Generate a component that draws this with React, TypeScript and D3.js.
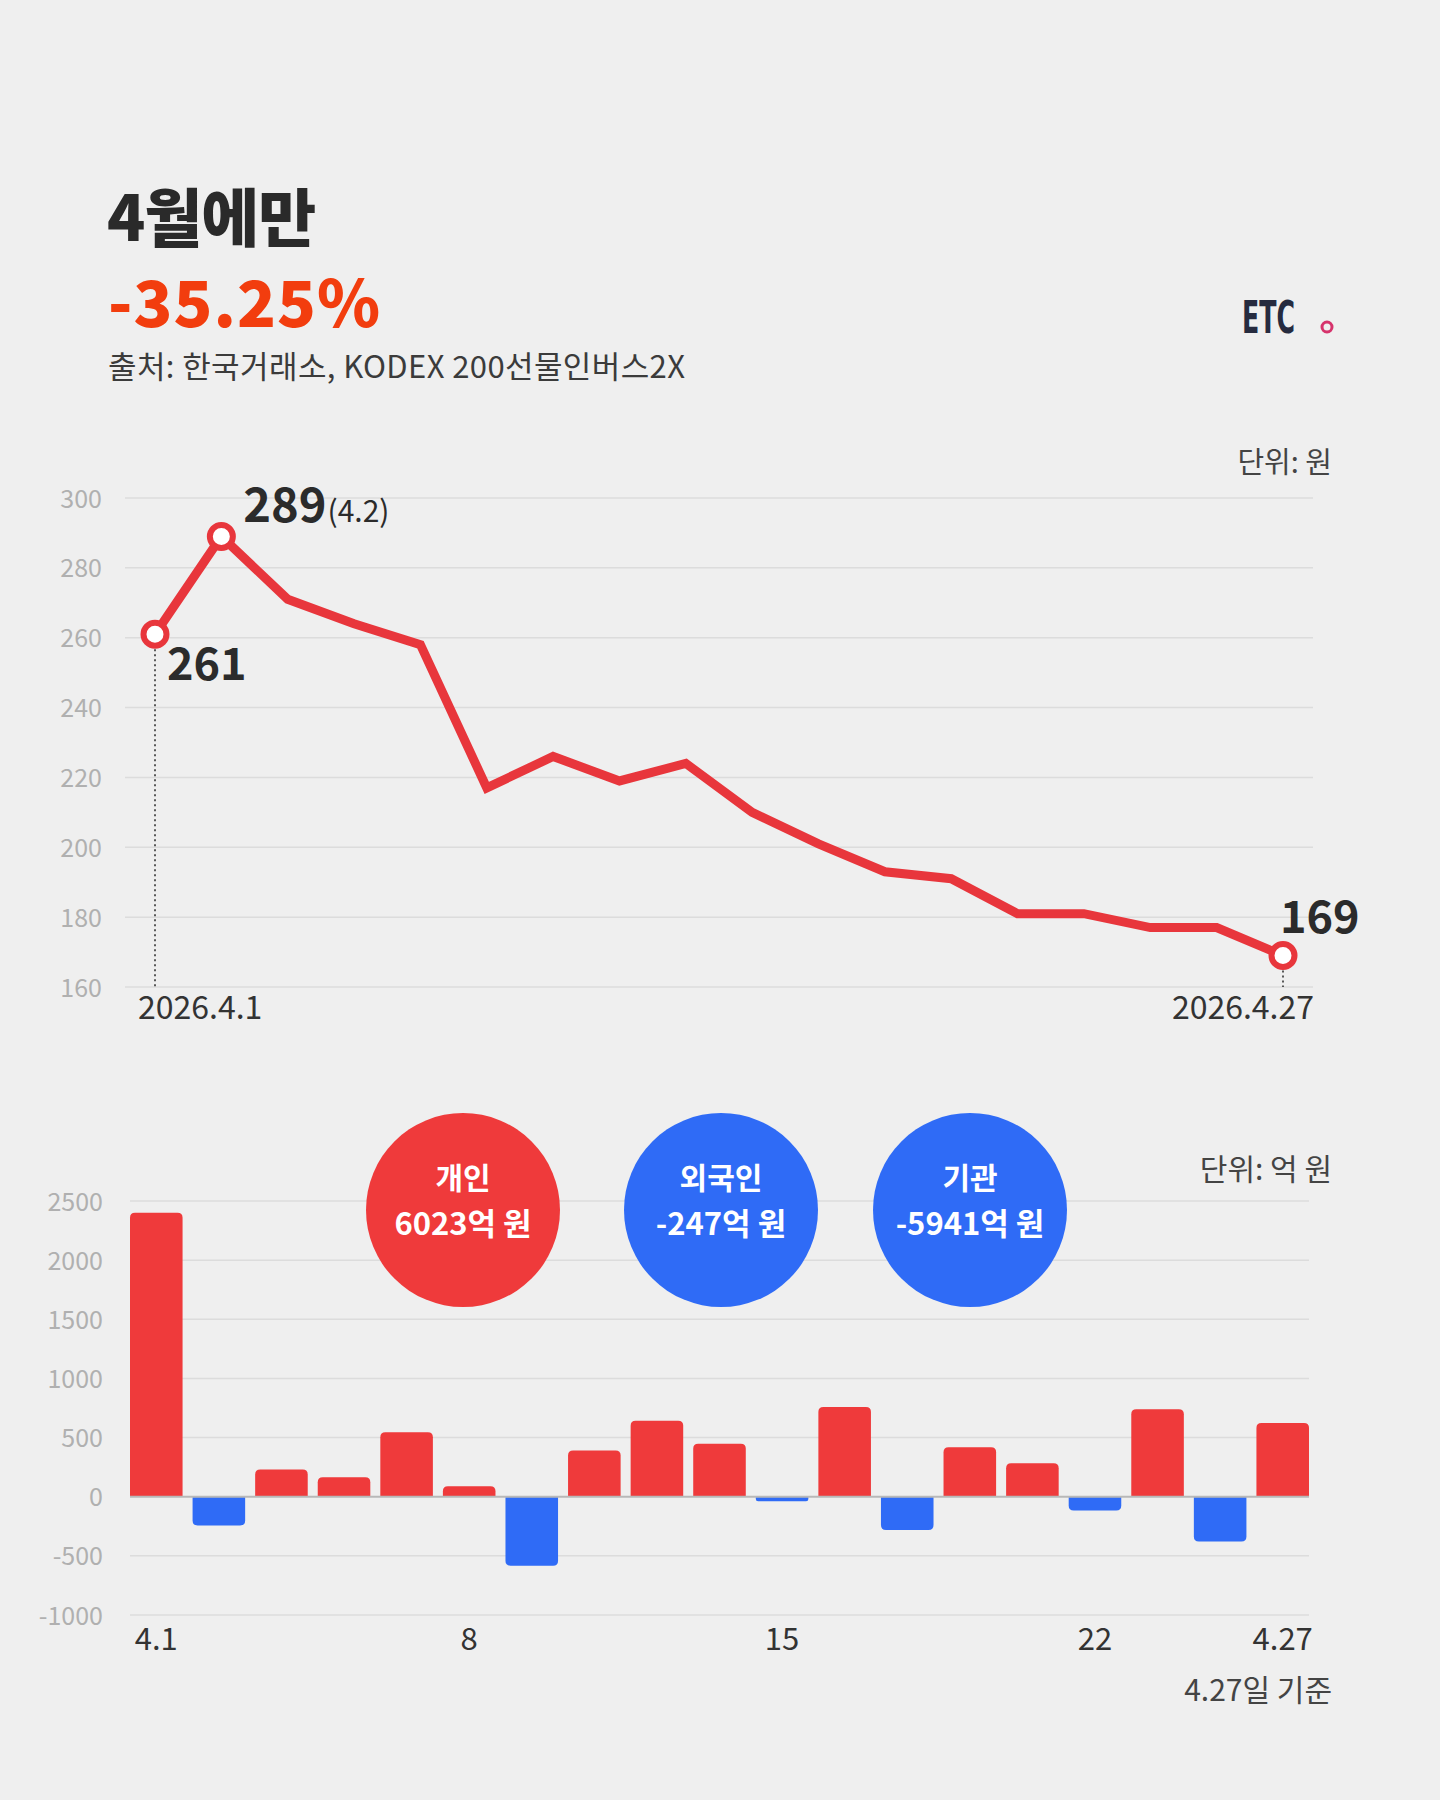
import * as d3 from "d3";
import { useMemo } from "react";

// KODEX 200선물인버스2X closing price, April 2026 (원)
const priceValues = [261, 289, 271, 264, 258, 217, 226, 219, 224, 210, 201, 193, 191, 181, 181, 177, 177, 169];
const priceTicks = [160, 180, 200, 220, 240, 260, 280, 300];
const priceFirstLabel = "2026.4.1";
const priceLastLabel = "2026.4.27";

// daily net buying (억 원)
const flowDates = ["4.1", "4.2", "4.3", "4.6", "4.7", "4.8", "4.9", "4.10", "4.13", "4.14", "4.15", "4.16", "4.17", "4.20", "4.21", "4.22", "4.23", "4.24", "4.27"];
const flowValues = [2400, -243, 230, 165, 545, 88, -584, 390, 642, 447, -39, 759, -282, 418, 282, -117, 739, -379, 623];
const flowTicks = [-1000, -500, 0, 500, 1000, 1500, 2000, 2500];
const flowTickDates = ["4.1", "4.8", "4.15", "4.22", "4.27"];
const flowTickLabels = ["4.1", "8", "15", "22", "4.27"];

// investor totals (억 원)
const investorNames = ["개인", "외국인", "기관"];
const investorTotals = [6023, -247, -5941];

const W = 1440;
const H = 1800;
const BG = "#efefef";
const RED = "#ef3a3b";
const LINE_RED = "#e8363c";
const BLUE = "#2f6bf6";
const GRID = "#dcdcdc";
const FONT = "'Noto Sans CJK KR', 'Noto Sans', sans-serif";

// bar path with rounded outer end
function barPath(x: number, w: number, y0: number, y1: number, r: number) {
  const h = Math.abs(y1 - y0);
  const rr = Math.min(r, h / 2, w / 2);
  if (y1 < y0) {
    // positive: round top
    return `M${x},${y0}V${y1 + rr}Q${x},${y1} ${x + rr},${y1}H${x + w - rr}Q${x + w},${y1} ${x + w},${y1 + rr}V${y0}Z`;
  }
  return `M${x},${y0}V${y1 - rr}Q${x},${y1} ${x + rr},${y1}H${x + w - rr}Q${x + w},${y1} ${x + w},${y1 - rr}V${y0}Z`;
}

const fmtWon = (v: number) => `${v}억 원`;

export default function App() {
  // line chart scales
  const px = useMemo(
    () => d3.scalePoint<number>().domain(d3.range(priceValues.length)).range([155, 1283]),
    []
  );
  const py = d3.scaleLinear().domain([160, 300]).range([987, 498]);
  const line = d3
    .line<number>()
    .x((_, i) => px(i)!)
    .y((d) => py(d));

  // bar chart scales
  const bx = d3.scaleBand<string>().domain(flowDates).range([130, 1309]).paddingInner(0.16).paddingOuter(0);
  const by = d3.scaleLinear().domain([-1000, 2500]).range([1615, 1201]);

  // bubbles
  const cx = d3.scaleOrdinal<string, number>().domain(investorNames).range([463, 721, 970]);

  const first = 0;
  const peak = priceValues.indexOf(d3.max(priceValues)!);
  const last = priceValues.length - 1;

  return (
    <svg
      width={W}
      height={H}
      style={{ position: "absolute", left: 0, top: 0, display: "block" }}
      fontFamily={FONT}
    >
      <rect width={W} height={H} fill={BG} />

      {/* header */}
      <text x={107} y={241} fontSize={63} fontWeight={900} fill="#2a2a2a" letterSpacing={-1}>
        4월에만
      </text>
      <text x={108} y={327} fontSize={64} fontWeight={900} fill="#f23d0e" letterSpacing={1}>
        -35.25%
      </text>
      <text x={108} y={378} fontSize={31} fill="#3b3b3b" letterSpacing={0.4}>
        출처: 한국거래소, KODEX 200선물인버스2X
      </text>

      {/* logo */}
      <text
        x={1242}
        y={333}
        fontSize={44}
        fontWeight={700}
        fill="#262b3f"
        fontFamily="'Liberation Sans Narrow', 'DejaVu Sans Condensed', sans-serif"
        textLength={53}
        lengthAdjust="spacingAndGlyphs"
      >
        ETC
      </text>
      <circle cx={1327} cy={327} r={5} fill="none" stroke="#d6336c" strokeWidth={3} />

      {/* ---------- line chart ---------- */}
      <text x={1332} y={473} textAnchor="end" fontSize={29} fill="#444">
        단위: 원
      </text>
      {priceTicks.map((t) => (
        <g key={t}>
          <line x1={125} x2={1313} y1={py(t)} y2={py(t)} stroke={GRID} strokeWidth={1.5} />
          <text x={102} y={py(t)} dy="0.38em" textAnchor="end" fontSize={25} fill="#b0b0b0">
            {t}
          </text>
        </g>
      ))}

      {/* dotted drop lines */}
      <line
        x1={px(first)}
        x2={px(first)}
        y1={py(priceValues[first])}
        y2={py(160)}
        stroke="#333"
        strokeWidth={1.6}
        strokeDasharray="2 3"
      />
      <line
        x1={px(last)}
        x2={px(last)}
        y1={py(priceValues[last])}
        y2={py(160)}
        stroke="#333"
        strokeWidth={1.6}
        strokeDasharray="2 3"
      />

      <path d={line(priceValues) || ""} fill="none" stroke={LINE_RED} strokeWidth={9} strokeLinejoin="miter" strokeMiterlimit={3} />

      {[first, peak, last].map((i) => (
        <circle key={i} cx={px(i)} cy={py(priceValues[i])} r={11.5} fill="#fff" stroke={LINE_RED} strokeWidth={6} />
      ))}

      <text x={px(peak)! + 22} y={py(priceValues[peak]) - 14} fontSize={47} fontWeight={700} fill="#2b2b2b">
        {priceValues[peak]}
        <tspan fontSize={30} fontWeight={400} dx={1}>
          (4.2)
        </tspan>
      </text>
      <text x={px(first)! + 12} y={py(priceValues[first]) + 46} fontSize={45} fontWeight={700} fill="#2b2b2b">
        {priceValues[first]}
      </text>
      <text x={px(last)! - 3} y={py(priceValues[last]) - 23} fontSize={45} fontWeight={700} fill="#2b2b2b">
        {priceValues[last]}
      </text>

      <text x={138} y={1019} fontSize={32} fill="#333">
        {priceFirstLabel}
      </text>
      <text x={1314} y={1019} textAnchor="end" fontSize={32} fill="#333">
        {priceLastLabel}
      </text>

      {/* ---------- bar chart ---------- */}
      <text x={1332} y={1180} textAnchor="end" fontSize={30} fill="#444">
        단위: 억 원
      </text>
      {flowTicks.map((t) => (
        <g key={t}>
          {t !== 0 && <line x1={130} x2={1309} y1={by(t)} y2={by(t)} stroke={GRID} strokeWidth={1.5} />}
          <text x={103} y={by(t)} dy="0.38em" textAnchor="end" fontSize={25} fill="#b0b0b0">
            {t}
          </text>
        </g>
      ))}

      {flowDates.map((d, i) => {
        const v = flowValues[i];
        return (
          <path
            key={d}
            d={barPath(bx(d)!, bx.bandwidth(), by(0), by(v), 5)}
            fill={v >= 0 ? RED : BLUE}
          />
        );
      })}
      <line x1={130} x2={1309} y1={by(0)} y2={by(0)} stroke="#b8b8b8" strokeWidth={2} />

      {flowTickDates.map((d, i) => (
        <text key={d} x={bx(d)! + bx.bandwidth() / 2} y={1650} textAnchor="middle" fontSize={31} fill="#333">
          {flowTickLabels[i]}
        </text>
      ))}
      <text x={1332} y={1701} textAnchor="end" fontSize={30} fill="#444">
        4.27일 기준
      </text>

      {/* investor bubbles */}
      {investorNames.map((n, i) => (
        <g key={n}>
          <circle cx={cx(n)} cy={1210} r={97} fill={investorTotals[i] >= 0 ? RED : BLUE} />
          <text x={cx(n)} y={1189} textAnchor="middle" fontSize={30} fontWeight={700} fill="#fff">
            {n}
          </text>
          <text x={cx(n)} y={1235} textAnchor="middle" fontSize={31} fontWeight={700} fill="#fff">
            {fmtWon(investorTotals[i])}
          </text>
        </g>
      ))}
    </svg>
  );
}
